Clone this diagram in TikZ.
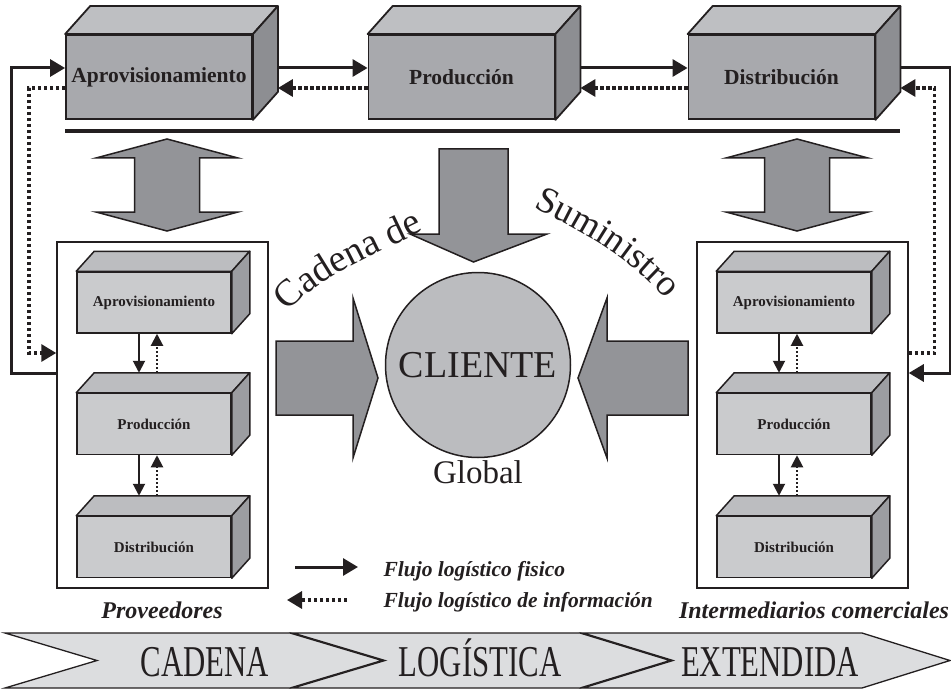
\documentclass[tikz,border=0pt]{standalone}
\usepackage{fontspec}
\setmainfont{Liberation Serif}
\newfontfamily\narrowfont[FakeStretch=0.7]{Liberation Serif}
\usetikzlibrary{calc,arrows.meta,decorations.text}

\definecolor{ink}{HTML}{231F20}
\definecolor{boxfront}{HTML}{A8A9AD}
\definecolor{boxtop}{HTML}{BEBFC2}
\definecolor{boxside}{HTML}{8D8E92}
\definecolor{smallfront}{HTML}{CACBCD}
\definecolor{smalltop}{HTML}{BCBDC0}
\definecolor{smallside}{HTML}{9C9DA1}
\definecolor{bigarrow}{HTML}{939498}
\definecolor{client}{HTML}{BBBCBF}
\definecolor{chevron}{HTML}{DCDDDF}

% top and side faces of a box node
\newcommand{\boxdepth}[6]{%
  \filldraw[draw=ink,fill=#4,line width=#6,line join=round]
    (#1.north west) -- ++(#2,#3) -- ($(#1.north east)+(#2,#3)$) -- (#1.north east) -- cycle;
  \filldraw[draw=ink,fill=#5,line width=#6,line join=round]
    (#1.north east) -- ++(#2,#3) -- ($(#1.south east)+(#2,#3)$) -- (#1.south east) -- cycle;
}

\begin{document}
\begin{tikzpicture}[x=1pt,y=-1pt,
    bigbox/.style={draw=ink,line width=1.8pt,fill=boxfront,inner sep=0pt,
      minimum width=186pt,minimum height=84pt,text=ink,
      font=\fontsize{21.5}{24}\selectfont\bfseries},
    smallbox/.style={draw=ink,line width=1.5pt,fill=smallfront,inner sep=0pt,
      minimum width=154pt,minimum height=61pt,text=ink,
      font=\fontsize{15}{18}\selectfont\bfseries},
    group/.style={draw=ink,line width=1.5pt,inner sep=0pt,
      minimum width=211pt,minimum height=346pt},
    flow/.style={draw=ink,line width=3pt,-{Triangle[length=15pt,width=17pt]}},
    info/.style={flow,line width=3.3pt,dash pattern=on 3.3pt off 2.7pt},
    flowsmall/.style={draw=ink,line width=2pt,-{Triangle[length=12pt,width=12pt]}},
    infosmall/.style={flowsmall,dash pattern=on 2pt off 2pt},
    block/.style={draw=ink,fill=bigarrow,line width=1.5pt,line join=miter},
    grouplabel/.style={text=ink,anchor=base,font=\fontsize{24}{28}\selectfont\bfseries\itshape},
    legend/.style={text=ink,anchor=base west,font=\fontsize{21.5}{24}\selectfont\bfseries\itshape},
    chev/.style={draw=ink,fill=chevron,line width=1.3pt,line join=miter},
    chevtext/.style={text=ink,anchor=base,font=\narrowfont\fontsize{44}{46}\selectfont},
  ]
  \useasboundingbox (0,0) rectangle (951,690);

  \node[bigbox] (aprov) at (159,77)   {Aprovisionamiento};
  \node[bigbox] (prod)  at (461.5,77) {Producción};
  \node[bigbox] (distr) at (781.5,77) {Distribución};
  \foreach \n in {aprov,prod,distr}
    \boxdepth{\n}{25}{-28}{boxtop}{boxside}{1.8pt};

  \draw[line width=3.5pt,ink] ($(aprov.south west)+(0,11)$) -- ($(distr.south east)+(25,11)$);

  \draw[flow] ($(aprov.east)+(25,-9)$) -- ($(prod.west)+(0,-9)$);
  \draw[info] ($(prod.west)+(0,11)$)   -- ($(aprov.east)+(25,11)$);
  \draw[flow] ($(prod.east)+(25,-9)$)  -- ($(distr.west)+(0,-9)$);
  \draw[info] ($(distr.west)+(0,11)$)  -- ($(prod.east)+(25,11)$);

  \node[group] (prov)  at (162.5,415) {};
  \node[group] (inter) at (802.5,415) {};
  \node[grouplabel] (provlabel)  at (162,618) {Proveedores};
  \node[grouplabel] (interlabel) at (814,618) {Intermediarios comerciales};

  \foreach \side/\x in {p/154,i/794} {
    \node[smallbox] (\side aprov) at (\x,302.5) {Aprovisionamiento};
    \node[smallbox] (\side prod)  at (\x,424)   {Producción};
    \node[smallbox] (\side distr) at (\x,547)   {Distribución};
    \foreach \n in {aprov,prod,distr}
      \boxdepth{\side\n}{18}{-20}{smalltop}{smallside}{1.5pt};
    \draw[flowsmall] ($(\side aprov.south)+(-15,0)$) -- ($(\side prod.north)+(-15,-20)$);
    \draw[infosmall] ($(\side prod.north)+(3,-20)$)  -- ($(\side aprov.south)+(3,0)$);
    \draw[flowsmall] ($(\side prod.south)+(-15,0)$)  -- ($(\side distr.north)+(-15,-20)$);
    \draw[infosmall] ($(\side distr.north)+(3,-20)$) -- ($(\side prod.south)+(3,0)$);
  }

  \draw[flow] ($(prov.west)+(0,-42)$) -- ++(-45,0) |- ($(aprov.west)+(0,-9)$);
  \draw[info] ($(aprov.west)+(0,11)$) -- ++(-36,0) |- ($(prov.west)+(0,-62)$);
  \draw[flow] ($(distr.east)+(25,-9)$) -- ++(50,0) |- ($(inter.east)+(0,-42)$);
  \draw[info] ($(inter.east)+(0,-62)$) -- ++(26,0) |- ($(distr.east)+(25,11)$);

  \foreach \cx in {167,797}
    \filldraw[block] (\cx,139) -- (\cx+71,158) -- (\cx+32.5,158) -- (\cx+32.5,212)
      -- (\cx+71,212) -- (\cx,231) -- (\cx-71,212) -- (\cx-32.5,212)
      -- (\cx-32.5,158) -- (\cx-71,158) -- cycle;

  \filldraw[block] (439,149) -- (508,149) -- (508,234) -- (547,234) -- (473.5,262)
    -- (410,234) -- (439,234) -- cycle;
  \filldraw[block] (276,341) -- (353,341) -- (353,298) -- (378,378) -- (353,458)
    -- (353,415) -- (276,415) -- cycle;
  \filldraw[block] (688,341) -- (607,341) -- (607,298) -- (578,378) -- (607,458)
    -- (607,415) -- (688,415) -- cycle;

  \node[circle,draw=ink,fill=client,line width=1.5pt,minimum size=185pt,text=ink,
    font=\fontsize{38}{40}\selectfont] (client) at (478,365) {CLIENTE};
  \node[text=ink,font=\fontsize{33}{36}\selectfont] (global) at (478,472) {Global};

  \path[decorate,decoration={text along path,
    text={|\fontsize{38}{38}\selectfont\color{ink}|Cadena de}}]
    (288,312) .. controls (318,275) and (392,248) .. (432,226);
  \path[decorate,decoration={text along path,
    text={|\fontsize{37}{37}\selectfont\color{ink}|Suministro}}]
    (533,208) .. controls (575,228) and (635,258) .. (672,308);

  \coordinate (solidfrom) at (295,567);
  \coordinate (solidto)   at (358,567);
  \coordinate (dotfrom)   at (347,600);
  \coordinate (dotto)     at (287,600);
  \draw[flow] (solidfrom) -- (solidto);
  \draw[info] (dotfrom) -- (dotto);
  \node[legend] (legphys) at (380,576) {Flujo logístico fisico};
  \node[legend] (leginfo) at (380,607) {Flujo logístico de información};

  \filldraw[chev] (5,633) -- (290,633) -- (382,660.5) -- (290,688) -- (5,688) -- (97,660.5) -- cycle;
  \filldraw[chev] (293,633) -- (580,633) -- (670,660.5) -- (580,688) -- (293,688) -- (385,660.5) -- cycle;
  \filldraw[chev] (583,633) -- (862,633) -- (950,660.5) -- (862,688) -- (583,688) -- (673,660.5) -- cycle;
  \node[chevtext] (cadena)    at (205,676) {CADENA};
  \node[chevtext] (logistica) at (480,676) {LOGÍSTICA};
  \node[chevtext] (extendida) at (770,676) {EXTENDIDA};
\end{tikzpicture}
\end{document}
